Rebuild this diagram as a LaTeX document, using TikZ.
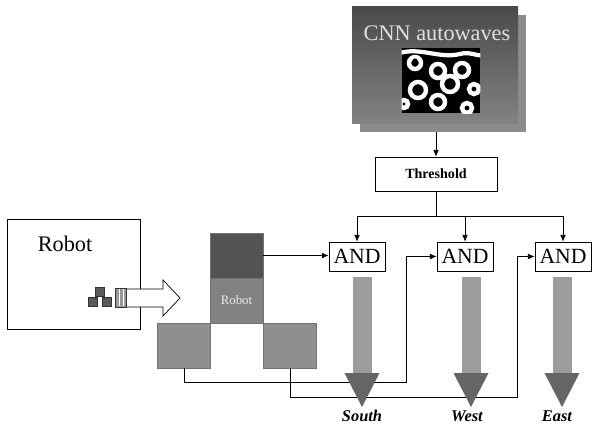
\documentclass[tikz,border=0pt]{standalone}
\usepackage{fontspec}
\setmainfont{Liberation Serif}
\usepackage{xcolor}
\usepackage{tikz}
\usetikzlibrary{arrows.meta,positioning,calc}

\def\pxu{0.03cm}
\definecolor{paneldark}{HTML}{4A4A4A}
\definecolor{panelmid}{HTML}{838383}
\definecolor{panelback}{HTML}{8C8C8C}
\definecolor{celldark}{HTML}{535353}
\definecolor{cellmid}{HTML}{828282}
\definecolor{celllight}{HTML}{8F8F8F}
\definecolor{shaftgray}{HTML}{9C9C9C}
\definecolor{headgray}{HTML}{656565}

\tikzset{
  bigdown/.pic={
    \fill[shaftgray] (-9.5,0) rectangle (9.5,97);
    \fill[headgray] (-17.5,96) -- (17.5,96) -- (0,130) -- cycle;
  }
}

\begin{document}
\begin{tikzpicture}[
  x=\pxu, y=-\pxu,
  line width=0.6pt,
  box/.style={draw, fill=white, inner sep=0pt},
  gate/.style={draw, fill=white, inner sep=0pt, minimum width=56*\pxu, minimum height=29*\pxu,
    font=\fontsize{18.5}{18.5}\selectfont},
  cell/.style={draw=black!55, inner sep=0pt, minimum width=53*\pxu, minimum height=45*\pxu},
  iconsq/.style={fill=black!65, draw=black!80, line width=0.3pt, inner sep=0pt, minimum size=9*\pxu},
  dirlabel/.style={font=\bfseries\itshape\fontsize{14}{14}\selectfont},
  arrow/.style={-{Latex[length=2mm,width=1.7mm]}}
]
\useasboundingbox (0,0) rectangle (595,425);

% CNN panels
\node[box, draw=none, fill=panelback, minimum width=166*\pxu, minimum height=117*\pxu] (cnnback) at (443,73.5) {};
\node[box, draw=none, top color=paneldark, bottom color=panelmid, minimum width=166*\pxu, minimum height=117*\pxu] (cnn) at (435,65.5) {};
\node[text=black!12, font=\fontsize{19}{19}\selectfont] (cnntext) at (437,33) {CNN autowaves};
\node[box, draw=none, fill=black, minimum width=78*\pxu, minimum height=65*\pxu] (waves) at (441,80.5) {};
\begin{scope}
  \clip (waves.north west) rectangle (waves.south east);
  \draw[white, line width=3.6pt] (400,53) .. controls (420,47) and (440,59) .. (460,54) .. controls (470,51) and (478,57) .. (484,55);
  \foreach \cx/\cy/\r in {415/63/6, 438/71/7, 462/70/7, 450/84/8, 418/90/8, 438/102/7, 467/108/5, 474/89/5, 404/104/4}
    \draw[white, line width=3.8pt] (\cx,\cy) circle[radius=\r];
  \foreach \cx/\cy in {450/81, 438/104, 418/87, 438/69, 462/68, 415/61}
    \fill[black] (\cx,\cy) circle[radius=2.5];
\end{scope}

\node[box, minimum width=122*\pxu, minimum height=34*\pxu, font=\bfseries\fontsize{12}{12}\selectfont] (thresh) at (436,174) {Threshold};

% robot
\node[box, minimum width=133*\pxu, minimum height=110*\pxu] (robot) at (73.5,274) {};
\node[font=\fontsize{19}{19}\selectfont] (robottxt) at (65,244) {Robot};
\node[iconsq] (icontop) at (99.5,292) {};
\node[iconsq] (iconleft) at (92.5,301.5) {};
\node[iconsq] (iconright) at (107,301.5) {};
\node[draw=black!80, fill=black!40, line width=0.4pt, inner sep=0pt, minimum width=11*\pxu, minimum height=19*\pxu] (sensor) at (121,297.5) {};
\draw[white, line width=0.8pt] (119,289) -- (119,306) (123,289) -- (123,306);
\draw[fill=white] (127,289) -- (163,289) -- (163,280) -- (180,298) -- (163,316) -- (163,307) -- (127,307);

% grid
\node[cell, fill=celldark] (cellN) at (236.5,255.5) {};
\node[cell, fill=cellmid, text=black!8, font=\fontsize{11}{11}\selectfont] (cellR) at (236.5,300.5) {Robot};
\node[cell, fill=celllight] (cellW) at (184,345.5) {};
\node[cell, fill=celllight] (cellE) at (290,345.5) {};

\node[gate] (and1) at (357,256.5) {AND};
\node[gate] (and2) at (465,256.5) {AND};
\node[gate] (and3) at (563,256.5) {AND};

\draw[arrow] (cnnback.south -| thresh.north) -- (thresh.north);
\coordinate (bus) at ($(thresh.south)+(0,25)$);
\draw (thresh.south) -- (bus);
\foreach \g in {and1,and2,and3}
  \draw[arrow] (bus) -| (\g.north);

\coordinate (jW) at (406,382);
\coordinate (jE) at (517,397);
\draw[arrow] (cellN.east) -- (cellN.east -| and1.west);
\draw[arrow] (cellW.south) |- (jW) |- (and2.west);
\draw[arrow] (cellE.south) |- (jE) |- (and3.west);

\pic at (362,277) {bigdown};
\pic at (471,277) {bigdown};
\pic at (562,277) {bigdown};

\node[dirlabel] (south) at (362,416) {South};
\node[dirlabel] (west) at (467,416) {West};
\node[dirlabel] (east) at (557,416) {East};
\end{tikzpicture}
\end{document}
